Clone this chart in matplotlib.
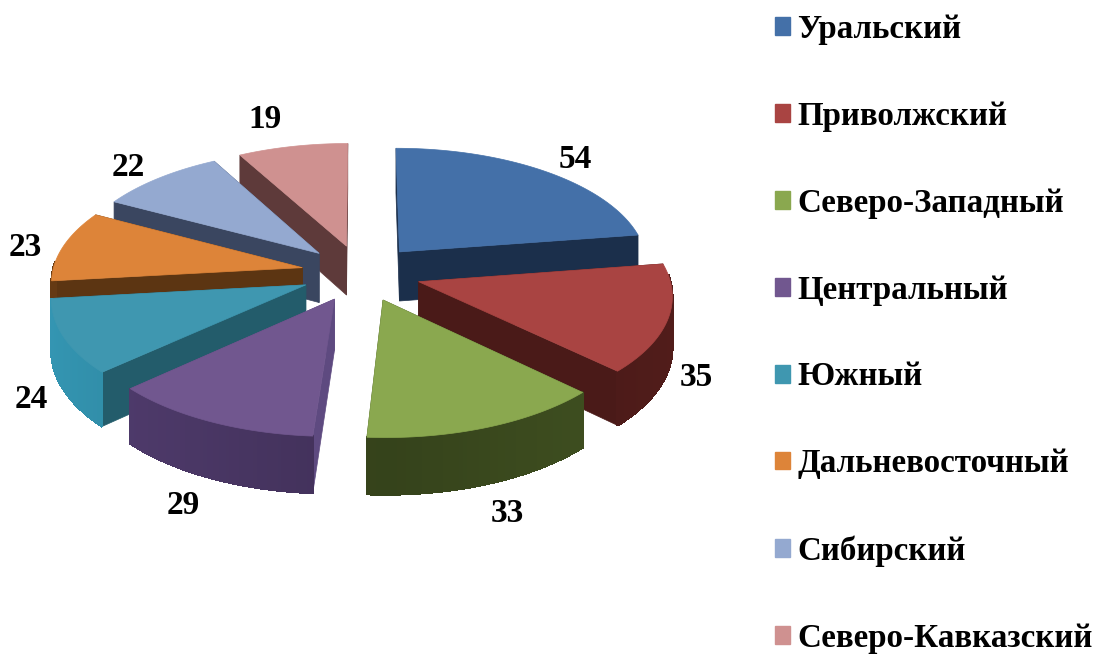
"""Exploded pseudo-3D pie of federal districts, drawn with matplotlib polygons."""

import numpy as np
import matplotlib
matplotlib.use("Agg")
import matplotlib.pyplot as plt
from matplotlib.patches import Patch, Polygon

districts = ["Уральский", "Приволжский", "Северо-Западный", "Центральный",
             "Южный", "Дальневосточный", "Сибирский", "Северо-Кавказский"]
values = [54, 35, 33, 29, 24, 23, 22, 19]

top_colors = ["#4470A8", "#A94442", "#8AA84F", "#71578F",
              "#3F97B0", "#DD8439", "#94A9D0", "#CF9190"]
wall_colors = ["#1B2F4B", "#4A1A18", "#3B4A1E", "#4A3765",
               "#2F88A2", "#5C3512", "#3A4660", "#5E3A3A"]
side_colors = ["#1B2F4B", "#4A1A18", "#3B4A1E", "#5E4A80",
               "#235C6B", "#5C3512", "#3A4660", "#5E3A3A"]

# layout of the fake 3D view, in pixels
CX, CY = 361, 273
RX, RY = 250, 118
PERSP = 0.10
DEPTH = 50
EXPLODE = 0.24
label_xy = [(575, 159), (696, 377), (507, 513), (183, 506),
            (31, 399), (25, 247), (128, 167), (265, 120)]
SERIF = "Liberation Serif"


def project(u, v, z=0.0):
    s = 1 / (1 + PERSP * v)
    return CX + RX * u * s, CY - RY * v * s + DEPTH * z * s


def shade(color, amount):
    rgb = np.array(matplotlib.colors.to_rgb(color))
    return tuple(np.clip(rgb * amount, 0, 1))


fig = plt.figure(figsize=(10.94, 6.57), dpi=100)
ax = fig.add_axes([0, 0, 1, 1])
ax.set_xlim(0, 1094)
ax.set_ylim(657, 0)
ax.axis("off")

total = sum(values)
edges = 90 - np.cumsum([0] + values) / total * 360
mids = (edges[:-1] + edges[1:]) / 2

# painter's order, back slices first
order = np.argsort(-np.sin(np.radians(mids)))
for zi, i in enumerate(order):
    a0, a1 = np.radians(edges[i]), np.radians(edges[i + 1])
    mid = np.radians(mids[i])
    ou, ov = EXPLODE * np.cos(mid), EXPLODE * np.sin(mid)
    theta = np.linspace(a0, a1, 60)
    us, vs = ou + np.cos(theta), ov + np.sin(theta)
    zo = 10 + zi * 10

    # radial walls
    for a in (a0, a1):
        eu, ev = ou + np.cos(a), ov + np.sin(a)
        quad = [project(ou, ov), project(eu, ev), project(eu, ev, 1), project(ou, ov, 1)]
        ax.add_patch(Polygon(quad, closed=True, fc=side_colors[i], ec=side_colors[i], lw=0.5, zorder=zo))

    # outer wall, split up so it can carry a light gradient
    for k in range(len(theta) - 1):
        if np.sin((theta[k] + theta[k + 1]) / 2) > 0.05:
            continue
        quad = [project(us[k], vs[k]), project(us[k + 1], vs[k + 1]),
                project(us[k + 1], vs[k + 1], 1), project(us[k], vs[k], 1)]
        amount = 0.9 + 0.2 * abs(np.cos((theta[k] + theta[k + 1]) / 2))
        col = shade(wall_colors[i], amount)
        ax.add_patch(Polygon(quad, closed=True, fc=col, ec=col, lw=1, antialiased=False, zorder=zo + 1))

    # top face
    top = [project(ou, ov)] + [project(u, v) for u, v in zip(us, vs)]
    ax.add_patch(Polygon(top, closed=True, fc=top_colors[i], ec=top_colors[i], lw=0.5, zorder=zo + 2))

for val, (x, y) in zip(values, label_xy):
    ax.text(x, y, str(val), family=SERIF, weight="bold", fontsize=24,
            ha="center", va="center", color="black", zorder=200)

handles = [Patch(fc=c, ec=c, label=d) for c, d in zip(top_colors, districts)]
ax.legend(handles=handles, loc="upper left", bbox_to_anchor=(775, 14), bbox_transform=ax.transData,
          frameon=False, ncol=1, borderpad=0, borderaxespad=0,
          prop={"family": SERIF, "weight": "bold", "size": 23.8},
          handlelength=0.45, handleheight=0.45, handletextpad=0.22, labelspacing=1.69)

fig.savefig("out.png", dpi=100)
